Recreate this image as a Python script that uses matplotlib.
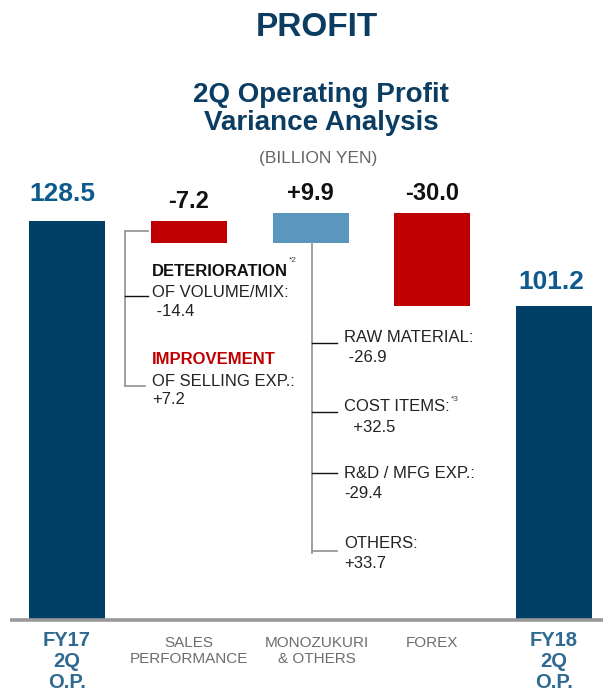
import matplotlib.pyplot as plt
from matplotlib.lines import Line2D

plt.rcParams['font.family'] = ['Liberation Sans', 'DejaVu Sans']

# data (billion yen)
categories = ['FY17\n2Q\nO.P.', 'SALES\nPERFORMANCE', 'MONOZUKURI\n& OTHERS', 'FOREX', 'FY18\n2Q\nO.P.']
start_value = 128.5
changes = [-7.2, 9.9, -30.0]
end_value = 101.2
value_labels = ['128.5', '-7.2', '+9.9', '-30.0', '101.2']

sales_items = [('DETERIORATION', 'OF VOLUME/MIX:', ' -14.4'),
               ('IMPROVEMENT', 'OF SELLING EXP.:', '+7.2')]
mono_items = [('RAW MATERIAL:', ' -26.9'),
              ('COST ITEMS:', '  +32.5'),
              ('R&D / MFG EXP.:', '-29.4'),
              ('OTHERS:', '+33.7')]

navy = '#003f66'
lightblue = '#5a96bd'
red = '#c00000'
numblue = '#0d5a8c'
catblue = '#2f6a90'
grey = '#999999'
txt = '#222222'

W, H = 603, 698
fig = plt.figure(figsize=(W / 100, H / 100), dpi=100)

def fx(x):
    return x / W

def fy(y):
    return 1 - y / H

base_px = 620
scale = 3.105  # px per billion yen
step = 121.75
x0 = 67

ax = fig.add_axes([0, fy(base_px), 1, base_px / H])
ax.set_ylim(0, base_px / scale)
ax.set_xlim(-x0 / step, (W - x0) / step)
ax.axis('off')

# waterfall geometry
bottoms = [0]
heights = [start_value]
colors = [navy]
running = start_value
for c in changes:
    bottoms.append(min(running, running + c))
    heights.append(abs(c))
    colors.append(lightblue if c > 0 else red)
    running += c
bottoms.append(0)
heights.append(end_value)
colors.append(navy)

xs = list(range(len(categories)))
width = 76 / step
ax.bar(xs, heights, bottom=bottoms, width=width, color=colors)

# value labels
for i in xs:
    top = bottoms[i] + heights[i]
    if i in (0, len(xs) - 1):
        gap = 15 if i == 0 else 12
        ax.annotate(value_labels[i], (i - 0.04 if i == 0 else i - 0.02, top), xytext=(0, gap),
                    textcoords='offset pixels', ha='center', va='bottom',
                    fontsize=19, fontweight='bold', color=numblue)
    else:
        ax.annotate(value_labels[i], (i, top), xytext=(0, 8),
                    textcoords='offset pixels', ha='center', va='bottom',
                    fontsize=17, fontweight='bold', color='#111111')

# baseline
ax.plot([-x0 / step + 10 / step, (W - x0) / step], [0, 0], color=grey, lw=2.6,
        clip_on=False, solid_capstyle='butt')

# category labels
for i, lab in enumerate(categories):
    if i in (0, len(categories) - 1):
        ax.annotate(lab, (i, 0), xytext=(0, -11), textcoords='offset pixels',
                    ha='center', va='top', fontsize=14.5, fontweight='bold',
                    color=catblue, linespacing=1.13)
    else:
        ax.annotate(lab, (i + (0.05 if i == 2 else 0), 0), xytext=(0, -16), textcoords='offset pixels',
                    ha='center', va='top', fontsize=11, color='#6d6d6d',
                    linespacing=1.2)

# titles
fig.text(fx(317), fy(27), 'PROFIT', ha='center', va='center', fontsize=24,
         fontweight='bold', color='#0b3d62')
fig.text(fx(321), fy(109), '2Q Operating Profit\nVariance Analysis', ha='center',
         va='center', fontsize=20, fontweight='bold', color='#0b3d62', linespacing=1.15)
fig.text(fx(318), fy(158), '(BILLION YEN)', ha='center', va='center', fontsize=12.5,
         color='#666666')

def line(xa, ya, xb, yb, color=grey, lw=1.3):
    fig.add_artist(Line2D([fx(xa), fx(xb)], [fy(ya), fy(yb)], color=color, lw=lw))

def sup(parent, s):
    # small footnote marker at the top right of a text
    fig.text(0, 0, s, fontsize=6, color='#444444', va='bottom', ha='left',
             transform=parent.get_transform())
    return ax.annotate(s, xy=(1, 1), xycoords=parent, xytext=(1, -2),
                       textcoords='offset pixels', fontsize=6, color='#444444',
                       va='top', ha='left')

# sales performance bracket
line(125, 231, 125, 386)
line(125, 231, 148, 231)
line(125, 296, 148, 296, color='#111111', lw=1.0)
line(125, 386, 145, 386)

fs = 12
t = fig.text(fx(152), fy(272), sales_items[0][0], fontsize=fs, fontweight='bold', color='#111111', va='center')
ax.annotate('*2', xy=(1, 1), xycoords=t, xytext=(1, 4), textcoords='offset pixels',
            fontsize=6, color='#444444', va='center', ha='left')
fig.text(fx(152), fy(292), sales_items[0][1], fontsize=fs, color=txt, va='center')
fig.text(fx(152), fy(311), sales_items[0][2], fontsize=fs, color=txt, va='center')
fig.text(fx(152), fy(360), sales_items[1][0], fontsize=fs, fontweight='bold', color=red, va='center')
fig.text(fx(152), fy(381), sales_items[1][1], fontsize=fs, color=txt, va='center')
fig.text(fx(152), fy(400), sales_items[1][2], fontsize=fs, color=txt, va='center')

# monozukuri bracket
line(312, 243, 312, 553)
tick_y = [343, 412, 473, 551]
text_y = [337, 407, 474, 544]
for k, (name, val) in enumerate(mono_items):
    col = grey if k == len(mono_items) - 1 else '#111111'
    line(312, tick_y[k], 337, tick_y[k], color=col, lw=1.0 if k < 3 else 1.3)
    t = fig.text(fx(344), fy(text_y[k]), name, fontsize=fs, color=txt, va='center')
    if k == 1:
        ax.annotate('*3', xy=(1, 1), xycoords=t, xytext=(1, 0), textcoords='offset pixels',
                    fontsize=6, color='#444444', va='center', ha='left')
    fig.text(fx(344), fy(text_y[k] + 20), val, fontsize=fs, color=txt, va='center')

fig.savefig('out.png', dpi=100)
